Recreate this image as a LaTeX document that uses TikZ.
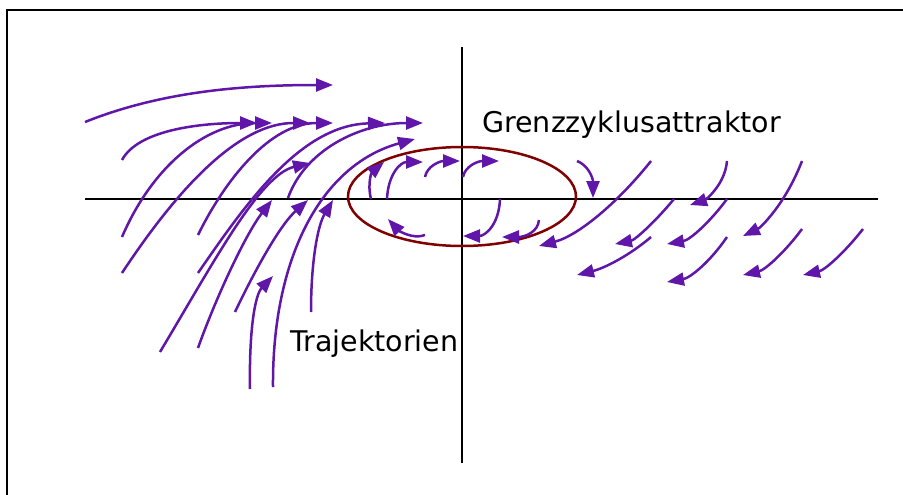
\documentclass[tikz,border=0pt]{standalone}
\usepackage{fontspec}
\newfontfamily\labelfont{DejaVu Sans}
\usetikzlibrary{arrows.meta}
\definecolor{Amethyst}{RGB}{96, 22, 168}
\definecolor{Maroon}{RGB}{128, 0, 0}

\tikzset{
    traj/.style={Amethyst, line width=2.5pt, -{Triangle[length=17pt, width=13pt]}},
    axisline/.style={black, line width=2.5pt},
    label/.style={font=\labelfont\fontsize{28.5}{32}\selectfont, inner sep=0pt}
}

\begin{document}
\begin{tikzpicture}[x=1pt, y=-1pt]
\useasboundingbox (0,0) rectangle (903,495);

% Frame
\draw[black, line width=2.5pt] (7,495) -- (7,10) -- (903,10);

% Axes
\draw[axisline] (85,199) -- (878,199);
\draw[axisline] (462,47) -- (462,463);

% Limit cycle
\draw[Maroon, line width=2.5pt] (462,196.5) ellipse [x radius=114, y radius=49.5];

% Trajectories, left (flowing up and right)
\draw[traj] (85,122) .. controls (160,92) and (240,85) .. (333,85);
\draw[traj] (122,160) .. controls (138,130) and (200,123) .. (257,123);
\draw[traj] (122,237) .. controls (152,167) and (205,123) .. (272,123);
\draw[traj] (122,273) .. controls (180,185) and (240,123) .. (310,123);
\draw[traj] (198,235) .. controls (225,180) and (270,123) .. (333,123);
\draw[traj] (160,352) .. controls (215,260) and (260,175) .. (310,163);
\draw[traj] (198,273) .. controls (245,205) and (300,125) .. (385,123);
\draw[traj] (288,198) .. controls (305,150) and (360,123) .. (423,123);
\draw[traj] (273,387) .. controls (272,260) and (320,165) .. (415,139);

% Trajectories, left below the axis
\draw[traj] (250,389) .. controls (249,330) and (255,295) .. (273,276);
\draw[traj] (198,348) .. controls (215,300) and (245,235) .. (272,200);
\draw[traj] (235,312) .. controls (255,270) and (280,225) .. (308,200);
\draw[traj] (311,312) .. controls (311,260) and (318,225) .. (333,200);

% Trajectories inside the limit cycle
\draw[traj] (371,199) .. controls (367,183) and (372,172) .. (384,162);
\draw[traj] (387,199) .. controls (388,175) and (400,162) .. (423,162);
\draw[traj] (425,177) .. controls (427,166) and (440,161) .. (460,161);
\draw[traj] (463,177) .. controls (465,166) and (478,161) .. (499,161);
\draw[traj] (500,199) .. controls (499,225) and (485,236) .. (463,236);
\draw[traj] (539,220) .. controls (538,232) and (525,237) .. (502,237);
\draw[traj] (425,235) .. controls (413,240) and (398,230) .. (388,219);
\draw[traj] (577,161) .. controls (588,165) and (593,178) .. (593,198);

% Trajectories, right (flowing down and left)
\draw[traj] (651,161) .. controls (620,200) and (580,235) .. (539,246);
\draw[traj] (727,161) .. controls (725,185) and (705,200) .. (690,205);
\draw[traj] (802,161) .. controls (785,205) and (760,228) .. (743,236);
\draw[traj] (674,199) .. controls (655,222) and (635,240) .. (615,244);
\draw[traj] (727,199) .. controls (710,222) and (690,240) .. (667,244);
\draw[traj] (651,237) .. controls (630,255) and (605,268) .. (577,275);
\draw[traj] (727,237) .. controls (710,262) and (690,278) .. (667,282);
\draw[traj] (802,229) .. controls (785,252) and (765,270) .. (743,275);
\draw[traj] (863,229) .. controls (845,252) and (825,270) .. (803,275);

% Labels
\node[label, anchor=base west] (cycle) at (482,132) {Grenzzyklusattraktor};
\node[label, anchor=base west] (paths) at (290,351) {Trajektorien};

\end{tikzpicture}
\end{document}
